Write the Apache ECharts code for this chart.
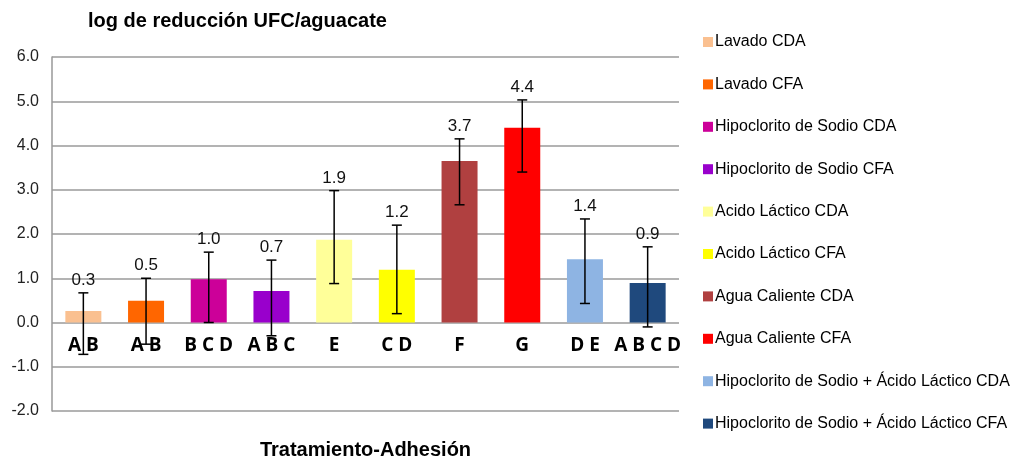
<!DOCTYPE html>
<html>
<head>
<meta charset="utf-8">
<script src="https://cdn.jsdelivr.net/npm/echarts@6/dist/echarts.min.js"></script>
<style>
  html, body { margin: 0; padding: 0; background: #fff; }
  #chart { width: 1016px; height: 459px; }
</style>
</head>
<body>
<div id="chart"></div>
<script>
var treatments = [
  'Lavado CDA', 'Lavado CFA', 'Hipoclorito de Sodio CDA', 'Hipoclorito de Sodio CFA',
  'Acido Láctico CDA', 'Acido Láctico CFA', 'Agua Caliente CDA', 'Agua Caliente CFA',
  'Hipoclorito de Sodio + Ácido Láctico CDA', 'Hipoclorito de Sodio + Ácido Láctico CFA'
];
var means = [0.26, 0.49, 0.98, 0.71, 1.87, 1.19, 3.65, 4.40, 1.43, 0.89];
var valueLabels = ['0.3', '0.5', '1.0', '0.7', '1.9', '1.2', '3.7', '4.4', '1.4', '0.9'];
var errLow = [-0.72, -0.49, 0.0, -0.30, 0.88, 0.20, 2.66, 3.40, 0.43, -0.10];
var errHigh = [0.67, 1.00, 1.59, 1.41, 2.98, 2.20, 4.15, 5.03, 2.34, 1.71];
var groups = ['A B', 'A B', 'B C D', 'A B C', 'E', 'C D', 'F', 'G', 'D E', 'A B C D'];
var colors = ['#FAC090', '#FF6600', '#CC0099', '#9900CC', '#FFFF99',
              '#FFFF00', '#B04040', '#FF0000', '#8EB4E3', '#1F497D'];
var letterLevel = -0.52;

var chart = echarts.init(document.getElementById('chart'));

var barSeries = treatments.map(function (name, i) {
  return {
    name: name,
    type: 'bar',
    stack: 'all',
    barWidth: 36,
    itemStyle: { color: colors[i] },
    data: means.map(function (v, j) { return j === i ? v : '-'; }),
    z: 2
  };
});

var errorSeries = {
  type: 'custom',
  silent: true,
  z: 5,
  data: means.map(function (v, i) { return [i, errLow[i], errHigh[i]]; }),
  renderItem: function (params, api) {
    var i = api.value(0);
    var lo = api.coord([i, api.value(1)]);
    var hi = api.coord([i, api.value(2)]);
    var letter = api.coord([i, letterLevel]);
    var cap = 5;
    var st = { stroke: '#000', lineWidth: 1.5 };
    return {
      type: 'group',
      children: [
        { type: 'line', shape: { x1: hi[0], y1: hi[1], x2: lo[0], y2: lo[1] }, style: st },
        { type: 'line', shape: { x1: hi[0] - cap, y1: hi[1], x2: hi[0] + cap, y2: hi[1] }, style: st },
        { type: 'line', shape: { x1: lo[0] - cap, y1: lo[1], x2: lo[0] + cap, y2: lo[1] }, style: st },
        {
          type: 'text',
          style: {
            text: valueLabels[i], x: hi[0], y: hi[1] - 4,
            align: 'center', verticalAlign: 'bottom',
            font: '17px "Liberation Sans", Arial, sans-serif', fill: '#111'
          }
        },
        {
          type: 'text',
          z2: 10,
          style: {
            text: groups[i], x: letter[0], y: letter[1],
            align: 'center', verticalAlign: 'middle',
            font: 'bold 19px "Open Sans", "DejaVu Sans", sans-serif', fill: '#000'
          }
        }
      ]
    };
  }
};

var option = {
  backgroundColor: '#fff',
  animation: false,
  title: {
    text: 'log de reducción UFC/aguacate',
    left: 83,
    top: 6,
    textStyle: { fontFamily: '"Liberation Sans", Arial', fontSize: 20, fontWeight: 'bold', color: '#000' }
  },
  legend: {
    orient: 'vertical',
    left: 698,
    top: 28,
    itemWidth: 10,
    itemHeight: 10,
    itemGap: 24.4,
    icon: 'rect',
    data: treatments,
    textStyle: { fontFamily: '"Liberation Sans", Arial', fontSize: 16, color: '#000', lineHeight: 18, padding: [0, 0, 0, -3] }
  },
  grid: { left: 52, right: 337, top: 57, bottom: 48, outerBoundsMode: 'none' },
  xAxis: {
    type: 'category',
    data: treatments,
    name: 'Tratamiento-Adhesión',
    nameLocation: 'middle',
    nameGap: 29,
    nameTextStyle: { fontFamily: '"Liberation Sans", Arial', fontSize: 20, fontWeight: 'bold', color: '#000' },
    axisLine: { show: false },
    axisTick: { show: false },
    axisLabel: { show: false }
  },
  yAxis: {
    type: 'value',
    min: -2,
    max: 6,
    interval: 1,
    axisLine: { show: true, lineStyle: { color: '#999', width: 1.5 } },
    axisTick: { show: false },
    axisLabel: {
      formatter: function (v) { return v.toFixed(1); },
      fontFamily: '"Liberation Sans", Arial',
      fontSize: 16,
      color: '#222',
      margin: 13
    },
    splitLine: { lineStyle: { color: '#9A9A9A', width: 1.5 } }
  },
  series: barSeries.concat([errorSeries])
};

chart.setOption(option);
</script>
</body>
</html>
